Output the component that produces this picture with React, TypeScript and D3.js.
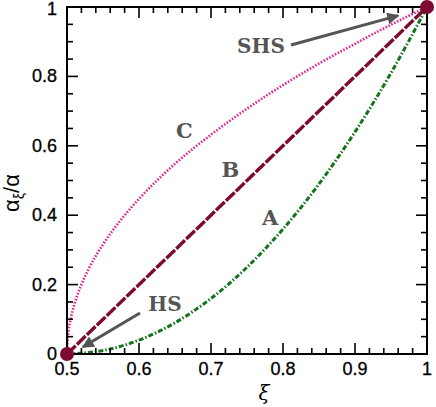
import React, { useEffect, useRef } from 'react';
import * as d3 from 'd3';

// values
const xiC = [0.5, 0.501, 0.505, 0.51, 0.52, 0.53, 0.55, 0.575, 0.6, 0.65, 0.7, 0.75, 0.8, 0.85, 0.9, 0.95, 1];
const curveC = [0, 0.045, 0.1, 0.141, 0.2, 0.245, 0.316, 0.387, 0.447, 0.548, 0.632, 0.707, 0.775, 0.837, 0.894, 0.949, 1];
const xiB = [0.5, 0.75, 1];
const curveB = [0, 0.5, 1];
const xiA = [0.5, 0.55, 0.6, 0.65, 0.7, 0.75, 0.8, 0.85, 0.9, 0.95, 1];
const curveA = [0, 0.01, 0.04, 0.09, 0.16, 0.25, 0.36, 0.49, 0.64, 0.81, 1];
const endPoints = [[0.5, 0], [1, 1]];
const xTicks = [0.5, 0.6, 0.7, 0.8, 0.9, 1];
const yTicks = [0, 0.2, 0.4, 0.6, 0.8, 1];
const curveLabels = [
  { t: 'C', x: 0.663, y: 0.622 },
  { t: 'B', x: 0.727, y: 0.51 },
  { t: 'A', x: 0.782, y: 0.372 },
];

export default function App() {
  const ref = useRef<SVGSVGElement>(null);

  useEffect(() => {
    const svg = d3.select(ref.current);
    svg.selectAll('*').remove();
    const left = 67, right = 427, top = 7, bottom = 354;
    const x = d3.scaleLinear().domain([0.5, 1]).range([left, right]);
    const y = d3.scaleLinear().domain([0, 1]).range([bottom, top]);

    const defs = svg.append('defs');
    defs.append('marker')
      .attr('id', 'arr')
      .attr('viewBox', '0 0 10 10')
      .attr('refX', 9).attr('refY', 5)
      .attr('markerWidth', 5).attr('markerHeight', 4)
      .attr('markerUnits', 'strokeWidth')
      .attr('orient', 'auto')
      .append('path').attr('d', 'M0,0 L10,5 L0,10 Z').attr('fill', '#555');

    const line = d3.line<[number, number]>()
      .x(d => x(d[0])).y(d => y(d[1]))
      .curve(d3.curveMonotoneX);

    const g = svg.append('g');
    g.append('path')
      .attr('d', line(xiC.map((v, i) => [v, curveC[i]])))
      .attr('fill', 'none').attr('stroke', '#e0248c')
      .attr('stroke-width', 2.6).attr('stroke-dasharray', '1.6,1.6');
    g.append('path')
      .attr('d', line(xiB.map((v, i) => [v, curveB[i]])))
      .attr('fill', 'none').attr('stroke', '#7d0a32')
      .attr('stroke-width', 3.4).attr('stroke-dasharray', '12,1.8');
    g.append('path')
      .attr('d', line(xiA.map((v, i) => [v, curveA[i]])))
      .attr('fill', 'none').attr('stroke', '#13741b')
      .attr('stroke-width', 3).attr('stroke-dasharray', '5,2,1.5,2');

    // frame and ticks on all sides
    svg.append('rect')
      .attr('x', left).attr('y', top)
      .attr('width', right - left).attr('height', bottom - top)
      .attr('fill', 'none').attr('stroke', 'black').attr('stroke-width', 2);

    const tk = svg.append('g').attr('stroke', 'black').attr('stroke-width', 1.6);
    d3.range(0, 26).forEach(i => {
      const v = 0.5 + i * 0.02;
      const major = i % 5 === 0;
      const len = major ? 11 : 6;
      tk.append('line').attr('x1', x(v)).attr('x2', x(v)).attr('y1', bottom).attr('y2', bottom - len);
      tk.append('line').attr('x1', x(v)).attr('x2', x(v)).attr('y1', top).attr('y2', top + len);
    });
    d3.range(0, 21).forEach(i => {
      const v = i * 0.05;
      const major = i % 4 === 0;
      const len = major ? 11 : 6;
      tk.append('line').attr('y1', y(v)).attr('y2', y(v)).attr('x1', left).attr('x2', left + len);
      tk.append('line').attr('y1', y(v)).attr('y2', y(v)).attr('x1', right).attr('x2', right - len);
    });

    const font = 'Liberation Sans, Arial, sans-serif';
    svg.append('g').selectAll('text').data(xTicks).enter().append('text')
      .attr('x', d => x(d)).attr('y', 375)
      .attr('text-anchor', 'middle')
      .attr('font-family', font).attr('font-size', 18)
      .attr('stroke', 'black').attr('stroke-width', 0.3)
      .text(d => d3.format('')(d));
    svg.append('g').selectAll('text').data(yTicks).enter().append('text')
      .attr('x', 57).attr('y', d => Math.max(y(d) + 6, 15))
      .attr('text-anchor', 'end')
      .attr('font-family', font).attr('font-size', 18)
      .attr('stroke', 'black').attr('stroke-width', 0.3)
      .text(d => d3.format('')(d));

    // axis titles
    svg.append('text')
      .attr('x', 264).attr('y', 400)
      .attr('text-anchor', 'middle')
      .attr('font-family', 'DejaVu Serif, serif').attr('font-style', 'italic')
      .attr('font-size', 20).text('ξ');
    const yl = svg.append('text')
      .attr('transform', 'translate(19,193) rotate(-90)')
      .attr('text-anchor', 'middle')
      .attr('font-family', font).attr('font-size', 22);
    yl.append('tspan').text('α');
    yl.append('tspan').attr('font-size', 14).attr('dy', 5).text('ξ');
    yl.append('tspan').attr('dy', -5).text('/α');

    // arrows
    svg.append('line')
      .attr('x1', 291).attr('y1', 45).attr('x2', x(0.96)).attr('y2', y(0.975))
      .attr('stroke', '#555').attr('stroke-width', 3).attr('marker-end', 'url(#arr)');
    svg.append('line')
      .attr('x1', 140).attr('y1', 313).attr('x2', x(0.522)).attr('y2', y(0.02))
      .attr('stroke', '#555').attr('stroke-width', 3).attr('marker-end', 'url(#arr)');

    const lab = 'DejaVu Serif, Liberation Serif, serif';
    svg.append('text').attr('x', 261).attr('y', 53).attr('text-anchor', 'middle')
      .attr('font-family', lab).attr('font-weight', 'bold').attr('font-size', 20)
      .attr('fill', '#555').text('SHS');
    svg.append('text').attr('x', 165).attr('y', 311).attr('text-anchor', 'middle')
      .attr('font-family', lab).attr('font-weight', 'bold').attr('font-size', 20)
      .attr('fill', '#555').text('HS');
    svg.append('g').selectAll('text').data(curveLabels).enter().append('text')
      .attr('x', d => x(d.x)).attr('y', d => y(d.y))
      .attr('text-anchor', 'middle')
      .attr('font-family', lab).attr('font-weight', 'bold').attr('font-size', 21)
      .attr('fill', '#555').text(d => d.t);

    svg.append('g').selectAll('circle').data(endPoints).enter().append('circle')
      .attr('cx', d => x(d[0])).attr('cy', d => y(d[1])).attr('r', 7)
      .attr('fill', '#7d0a32');
  }, []);

  return <svg ref={ref} width={436} height={407} style={{ position: 'absolute', left: 0, top: 0 }} />;
}
